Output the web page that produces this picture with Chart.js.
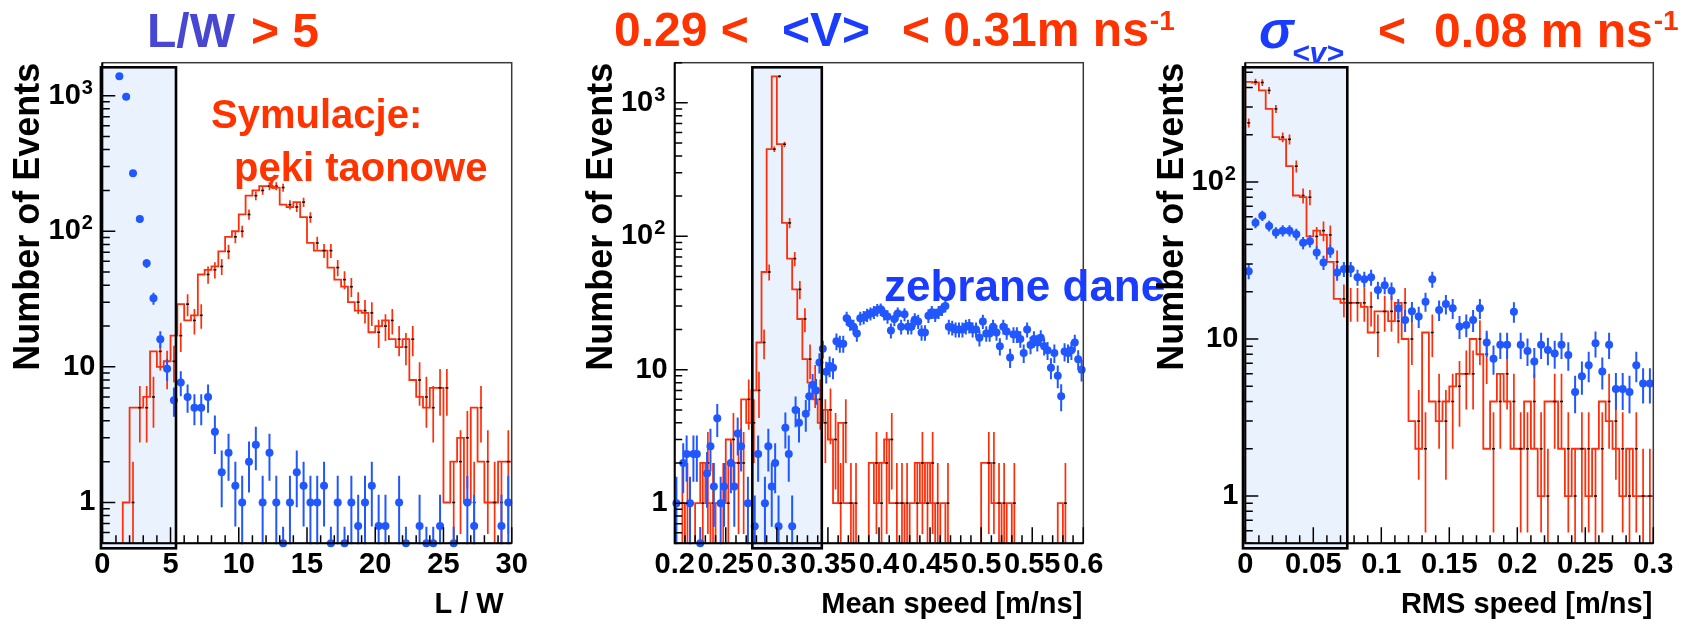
<!DOCTYPE html>
<html>
<head>
<meta charset="utf-8">
<script src="https://cdn.jsdelivr.net/npm/chart.js@4/dist/chart.umd.min.js"></script>
<style>
  html, body { margin: 0; padding: 0; background: #fff; }
  #wrap { position: relative; width: 1697px; height: 629px; overflow: hidden; background: #fff; }
  #wrap canvas { position: absolute; left: 0; top: 0; }
</style>
</head>
<body>
<div id="wrap">
  <canvas id="pLW" width="1697" height="629"></canvas>
  <canvas id="pMean" width="1697" height="629"></canvas>
  <canvas id="pRms" width="1697" height="629"></canvas>
</div>
<script>
// ---- L/W distribution (bins of 0.5 from 0 to 30) ----
const lwSimCounts = [0,0,0,0,1,5,5,6,13,10, 11,17,29,22,24,48,52,55,71,91,
  100,133,183,200,215,215,210,157,151,164, 127,82,72,72,54,44,39,30,26,25,
  18,20,22,16,14,16,8,6,5,7, 7,1,2,3,1,5,2,1,1,2];
const lwDataCounts = [0,0,1390,980,268,123,58,32,16,9.67, 5.67,7.67,6,5,5,6,3.33,1.67,2.33,1.33,
  1,2,2.67,1,2.33,1,0.33,1,1.67,1.33, 1,1,1.33,0.33,1,0.33,1,0.67,1,1.33,
  0.67,0.67,0,1,0.33,0,0.67,0.33,0.33,0.67, 0,0.33,0,1,0.67,0,0,0,0.67,1];
const lwTicks = [0, 5, 10, 15, 20, 25, 30];
const lwTickLabels = ['0', '5', '10', '15', '20', '25', '30'];

// ---- mean speed (simulation: 0.005 bins, measured: 1/300 bins, 0.2 to 0.6) ----
const meanSimCounts = [0,1,1,0,0,1,2,1,0,1, 1,3,2,2,6,4,7,16,54,450,
  1580,490,126,68,40,24,12,8,6,4, 5,3,1,4,1,1,0,0,0,2,
  1,2,3,1,1,1,0,1,2,1, 2,1,0,1,0,0,0,0,0,0,
  0,2,2,1,1,0,1,0,0,0, 0,0,0,0,0,0,1,0,0,0];
const meanDataCounts = [1,0,2,2.33,1,2.33,2.33,0.33,0,1.67,
  2.67,1.33,4.33,1,1.33,0,2,1.33,3.33,2.67,
  0,1,0,0.67,2.33,0,1,2.67,1.33,2,
  0.67,0,3.67,2.33,0.67,5,4,0,4.67,6.33,
  7.67,7,11.33,14.33,9.67,10.67,10.33,16.33,15.67,15.67,
  24.33,22.33,21,18.67,24.33,24.67,25.67,26.33,27,28,
  28.33,26.33,25,19.67,24,26.33,21,26,21,21,
  23.67,23,19,19,25.33,27,25.67,27,28.33,30,
  21,20.67,20,20,20,21,21.33,20,20,17.33,
  23,18.67,18.67,21,19,15,21,19.33,12.33,18.33,
  18.33,17,13.33,20,15.33,17,16,17.33,15,14,
  10.33,13.33,9,6.33,13.67,13.33,14,16,12,10];
const meanTicks = [0.2, 0.25, 0.3, 0.35, 0.4, 0.45, 0.5, 0.55, 0.6];
const meanTickLabels = ['0.2', '0.25', '0.3', '0.35', '0.4', '0.45', '0.5', '0.55', '0.6'];

// ---- RMS speed (bins of 0.005 from 0 to 0.3) ----
const rmsSimCounts = [238,434,430,383,292,193,187,126,82,80, 45,49,46,31,18,17,17,17,16,11,
  15,15,13,17,10,3,2,11,4,3, 4,5,6,6,10,8,2,4,6,4,
  2,2,4,2,1,4,4,2,1,2, 2,1,2,4,3,2,1,2,1,1];
const rmsDataCounts = [27,55,61,52.5,47.6,49,49,46.4,41,42, 35.5,30.7,36.4,26.5,27.9,27.9,24.7,24,24.7,20.5,
  22,20.3,15.7,13.2,15,13.9,17.3,24,15.3,16.7, 15.7,12,12.3,13.2,15.7,9.5,7.5,9.2,9.2,14.9,
  9.2,8.4,7.2,9.2,8.5,8.1,9.2,7.9,4.6,5.8, 6.8,9.4,6.2,9.2,4.8,4.8,4.6,6.8,5.2,5.2];
const rmsTicks = [0, 0.05, 0.1, 0.15, 0.2, 0.25, 0.3];
const rmsTickLabels = ['0', '0.05', '0.1', '0.15', '0.2', '0.25', '0.3'];

// decade labels of the log axis: base and exponent
const decadeValues = [1, 10, 100, 1000];
const decadeBases = ['1', '10', '10', '10'];
const decadeExponents = ['', '', '2', '3'];

// weight of one measured event (statistical error = sqrt(n * w))
const dataWeight = 1 / 3;

// ---------------- styling ----------------
const FONT = "'Liberation Sans', Arial, Helvetica, sans-serif";
const RED = '#ff2e0a';
const BLUE = '#2157ff';
const TXT_RED = '#ff3300';
const TXT_BLUE = '#1a3cff';
const TXT_SLATE = '#4747d4';
const CUT_FILL = '#eaf3fd';
const PLOT_TOP = 62.7, PLOT_BOTTOM = 543.3, CANVAS_W = 1697, CANVAS_H = 629;
const Y_AXIS_W = 100;
const Y_LABEL_PAD = 7;
const EXP_GAP = '\u2002';

function stepPoints(start, width, counts, floor) {
  const pts = counts.map((c, i) => ({ x: start + i * width, y: c > 0 ? c : floor }));
  const last = counts[counts.length - 1];
  pts.push({ x: start + counts.length * width, y: last > 0 ? last : floor });
  return pts;
}
function markerPoints(start, width, counts, yMin) {
  const pts = [];
  counts.forEach((c, i) => { if (c > 0) pts.push({ x: start + (i + 0.5) * width, y: Math.max(c, yMin) }); });
  return pts;
}
function drawRuns(ctx, runs) {
  let cx = 0;
  runs.forEach(r => {
    ctx.font = r.font;
    ctx.fillStyle = r.color;
    ctx.textAlign = 'left';
    ctx.textBaseline = 'alphabetic';
    const x = r.x !== undefined ? r.x : cx + (r.gap || 0);
    ctx.fillText(r.text, x, r.y);
    cx = x + ctx.measureText(r.text).width;
  });
}

function makeDecor(p) {
  return {
    id: 'decor',
    beforeDatasetsDraw(chart) {
      const { ctx, chartArea: a, scales: { x } } = chart;
      const x0 = x.getPixelForValue(p.cut[0]), x1 = x.getPixelForValue(p.cut[1]);
      ctx.save();
      ctx.fillStyle = CUT_FILL;
      ctx.fillRect(x0, a.top + 4.6, x1 - x0, a.bottom + 5 - (a.top + 4.6));
      ctx.restore();
    },
    afterDatasetDraw(chart, args) {
      if (args.index !== 0) return;
      const { ctx, chartArea: a, scales: { x, y } } = chart;
      ctx.save();
      ctx.beginPath(); ctx.rect(a.left, a.top, a.right - a.left, a.bottom - a.top); ctx.clip();
      ctx.strokeStyle = RED; ctx.lineWidth = 1.7;
      p.sim.forEach((c, i) => {
        if (c <= 0) return;
        const cx = x.getPixelForValue(p.simStart + (i + 0.5) * p.simWidth);
        const e = Math.sqrt(c);
        const yTop = y.getPixelForValue(c + e);
        const yBot = c - e > 0 ? y.getPixelForValue(c - e) : a.bottom + 2;
        ctx.beginPath(); ctx.moveTo(cx, yTop); ctx.lineTo(cx, yBot); ctx.stroke();
      });
      ctx.fillStyle = '#111';
      p.sim.forEach((c, i) => {
        if (c <= 0) return;
        const cx = x.getPixelForValue(p.simStart + (i + 0.5) * p.simWidth);
        const cy = y.getPixelForValue(c);
        ctx.fillRect(cx - 1.5, cy - 0.8, 3, 1.6);
      });
      ctx.restore();
    },
    beforeDatasetDraw(chart, args) {
      if (args.index !== 1) return;
      const { ctx, chartArea: a, scales: { x, y } } = chart;
      ctx.save();
      ctx.beginPath(); ctx.rect(a.left, a.top, a.right - a.left, a.bottom - a.top + 1); ctx.clip();
      ctx.strokeStyle = BLUE; ctx.lineWidth = 2;
      p.data.forEach((v, i) => {
        if (v <= 0) return;
        const lo = p.dataStart + i * p.dataWidth;
        const cx = x.getPixelForValue(lo + 0.5 * p.dataWidth);
        const e = Math.sqrt(v * dataWeight);
        const yv = y.getPixelForValue(Math.max(v, p.yMin));
        const yTop = y.getPixelForValue(v + e);
        const yBot = v - e > 0 ? y.getPixelForValue(v - e) : a.bottom + 2;
        ctx.beginPath();
        ctx.moveTo(cx, yTop); ctx.lineTo(cx, yBot);
        ctx.moveTo(x.getPixelForValue(lo), yv); ctx.lineTo(x.getPixelForValue(lo + p.dataWidth), yv);
        ctx.stroke();
      });
      ctx.restore();
    },
    afterDatasetsDraw(chart) {
      const { ctx, chartArea: a, scales: { x, y } } = chart;
      ctx.save();
      // frame
      ctx.strokeStyle = '#3a3a3a'; ctx.lineWidth = 1.5;
      ctx.strokeRect(a.left, a.top, a.right - a.left, a.bottom - a.top);
      ctx.strokeStyle = '#000'; ctx.lineWidth = 2;
      ctx.beginPath();
      ctx.moveTo(a.left, a.top); ctx.lineTo(a.left, a.bottom); ctx.lineTo(a.right, a.bottom);
      ctx.stroke();
      // x ticks (inside, from the bottom axis)
      ctx.lineWidth = 1.5;
      const n = Math.round((p.xMax - p.xMin) / p.minorStep);
      ctx.beginPath();
      for (let i = 0; i <= n; i++) {
        const v = p.xMin + i * p.minorStep;
        const r = v / p.majorStep;
        const len = Math.abs(r - Math.round(r)) < 1e-6 ? 16 : 8;
        const px = x.getPixelForValue(v);
        ctx.moveTo(px, a.bottom); ctx.lineTo(px, a.bottom - len);
      }
      // y ticks (inside, from the left axis)
      const e0 = Math.floor(Math.log10(p.yMin)), e1 = Math.ceil(Math.log10(p.yMax));
      for (let e = e0; e <= e1; e++) {
        for (let m = 1; m <= 9; m++) {
          const v = m * Math.pow(10, e);
          if (v < p.yMin * 0.999 || v > p.yMax) continue;
          const py = y.getPixelForValue(v);
          ctx.moveTo(a.left, py); ctx.lineTo(a.left + (m === 1 ? 13 : 7.5), py);
        }
      }
      ctx.stroke();
      // selection window
      const x0 = x.getPixelForValue(p.cut[0]), x1 = x.getPixelForValue(p.cut[1]);
      ctx.strokeStyle = '#000'; ctx.lineWidth = 2.6;
      ctx.strokeRect(x0, a.top + 4.6, x1 - x0, a.bottom + 5 - (a.top + 4.6));
      ctx.restore();
    },
    afterDraw(chart) {
      const { ctx, chartArea: a, scales: { y } } = chart;
      ctx.save();
      // exponents of the decade labels
      ctx.font = 'bold 29px ' + FONT;
      const gapW = ctx.measureText(EXP_GAP).width;
      ctx.font = 'bold 20px ' + FONT;
      ctx.fillStyle = '#000';
      ctx.textAlign = 'left'; ctx.textBaseline = 'alphabetic';
      decadeValues.forEach((v, i) => {
        if (!decadeExponents[i] || v < p.yMin || v > p.yMax) return;
        ctx.fillText(decadeExponents[i], a.left - Y_LABEL_PAD - gapW + 1, y.getPixelForValue(v) - 2);
      });
      drawRuns(ctx, p.title);
      drawRuns(ctx, p.notes);
      // axis titles
      ctx.fillStyle = '#000';
      ctx.font = 'bold 29px ' + FONT;
      ctx.textAlign = 'right'; ctx.textBaseline = 'alphabetic';
      ctx.fillText(p.xTitle, a.right - p.xTitleInset, 613);
      ctx.save();
      ctx.translate(p.yTitleX, a.top);
      ctx.rotate(-Math.PI / 2);
      ctx.font = 'bold 36px ' + FONT;
      ctx.textAlign = 'right';
      ctx.fillText('Number of Events', 0, 0);
      ctx.restore();
      ctx.restore();
    }
  };
}

function buildPanel(canvasId, p) {
  const tickFont = { family: FONT, size: 29, weight: 'bold' };
  return new Chart(document.getElementById(canvasId), {
    type: 'scatter',
    data: {
      datasets: [
        {
          type: 'line',
          data: stepPoints(p.simStart, p.simWidth, p.sim, p.yMin / 100),
          stepped: 'after',
          borderColor: RED,
          borderWidth: 1.8,
          pointRadius: 0,
          fill: false,
          order: 2
        },
        {
          type: 'scatter',
          data: markerPoints(p.dataStart, p.dataWidth, p.data, p.yMin),
          pointStyle: 'circle',
          pointRadius: 4,
          backgroundColor: BLUE,
          borderWidth: 0,
          clip: false,
          order: 1
        }
      ]
    },
    options: {
      responsive: false,
      animation: false,
      devicePixelRatio: 1,
      events: [],
      layout: { padding: { left: p.area[0] - Y_AXIS_W, right: CANVAS_W - p.area[1], top: PLOT_TOP, bottom: 0 } },
      plugins: { legend: { display: false }, tooltip: { enabled: false } },
      scales: {
        x: {
          type: 'linear', min: p.xMin, max: p.xMax,
          afterBuildTicks: s => { s.ticks = p.xTicks.map(v => ({ value: v })); },
          afterFit: s => { s.height = CANVAS_H - PLOT_BOTTOM; },
          grid: { display: false, drawTicks: false },
          border: { display: false },
          ticks: {
            autoSkip: false, maxRotation: 0, minRotation: 0, padding: 4,
            color: '#000', font: tickFont,
            callback: (v, i) => p.xLabels[i]
          }
        },
        y: {
          type: 'logarithmic', min: p.yMin, max: p.yMax,
          afterBuildTicks: s => {
            s.ticks = decadeValues.filter(v => v >= p.yMin && v <= p.yMax).map(v => ({ value: v }));
          },
          afterFit: s => { s.width = Y_AXIS_W; },
          grid: { display: false, drawTicks: false },
          border: { display: false },
          ticks: {
            padding: Y_LABEL_PAD, color: '#000', font: tickFont,
            callback: v => {
              const i = decadeValues.indexOf(v);
              return decadeBases[i] + (decadeExponents[i] ? EXP_GAP : '');
            }
          }
        }
      }
    },
    plugins: [makeDecor(p)]
  });
}

const big = 'bold 48px ' + FONT;
const sup = 'bold 28px ' + FONT;

buildPanel('pLW', {
  area: [102.3, 511.7], xMin: 0, xMax: 30, yMin: 0.5, yMax: 1750,
  sim: lwSimCounts, simStart: 0, simWidth: 0.5,
  data: lwDataCounts, dataStart: 0, dataWidth: 0.5,
  xTicks: lwTicks, xLabels: lwTickLabels, majorStep: 5, minorStep: 1,
  cut: [-0.1, 5.4],
  xTitle: 'L / W', xTitleInset: 8, yTitleX: 39,
  title: [
    { text: 'L/W', x: 147, y: 47, font: big, color: TXT_SLATE },
    { text: '> 5', x: 251, y: 47, font: big, color: TXT_RED }
  ],
  notes: [
    { text: 'Symulacje:', x: 211, y: 128, font: 'bold 40px ' + FONT, color: TXT_RED },
    { text: 'pęki taonowe', x: 234, y: 181, font: 'bold 40px ' + FONT, color: TXT_RED }
  ]
});

buildPanel('pMean', {
  area: [674.7, 1083.3], xMin: 0.2, xMax: 0.6, yMin: 0.5, yMax: 2000,
  sim: meanSimCounts, simStart: 0.2, simWidth: 0.005,
  data: meanDataCounts, dataStart: 0.2, dataWidth: 1 / 300,
  xTicks: meanTicks, xLabels: meanTickLabels, majorStep: 0.05, minorStep: 0.01,
  cut: [0.276, 0.344],
  xTitle: 'Mean speed [m/ns]', xTitleInset: 1, yTitleX: 612,
  title: [
    { text: '0.29 <', x: 614, y: 46, font: big, color: TXT_RED },
    { text: '<V>', x: 782, y: 46, font: big, color: TXT_BLUE },
    { text: '< 0.31m ns', x: 902, y: 46, font: big, color: TXT_RED },
    { text: '-1', gap: 1, y: 30, font: sup, color: TXT_RED }
  ],
  notes: [
    { text: 'zebrane dane', x: 884, y: 301, font: 'bold 44px ' + FONT, color: TXT_BLUE }
  ]
});

buildPanel('pRms', {
  area: [1245.3, 1653.3], xMin: 0, xMax: 0.3, yMin: 0.5, yMax: 575,
  sim: rmsSimCounts, simStart: 0, simWidth: 0.005,
  data: rmsDataCounts, dataStart: 0, dataWidth: 0.005,
  xTicks: rmsTicks, xLabels: rmsTickLabels, majorStep: 0.05, minorStep: 0.01,
  cut: [-0.0017, 0.075],
  xTitle: 'RMS speed [m/ns]', xTitleInset: 1, yTitleX: 1183,
  title: [
    { text: '\u03C3', x: 1259, y: 48, font: 'italic bold 52px ' + FONT, color: TXT_BLUE },
    { text: '<v>', x: 1292, y: 63, font: 'italic bold 30px ' + FONT, color: TXT_BLUE },
    { text: '<', x: 1378, y: 47, font: big, color: TXT_RED },
    { text: '0.08 m ns', x: 1434, y: 47, font: big, color: TXT_RED },
    { text: '-1', gap: 1, y: 30, font: sup, color: TXT_RED }
  ],
  notes: []
});
</script>
</body>
</html>
